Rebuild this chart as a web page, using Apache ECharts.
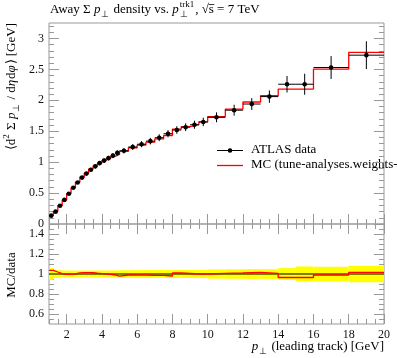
<!DOCTYPE html>
<html><head><meta charset="utf-8">
<script src="https://cdn.jsdelivr.net/npm/echarts@6/dist/echarts.min.js"></script>
<style>html,body{margin:0;padding:0;background:#fff}#c{width:397px;height:358px}</style>
</head><body><div id="c"></div>
<script>
// ---- data ----
const binEdges = [1,1.25,1.5,1.75,2,2.25,2.5,2.75,3,3.25,3.5,3.75,4,4.25,4.5,4.75,5,5.5,6,6.5,7,7.5,8,8.5,9,9.5,10,11,12,13,14,15,16,18,20];
const dataVals = [0.135,0.20,0.295,0.39,0.49,0.585,0.67,0.75,0.815,0.878,0.932,0.985,1.025,1.065,1.105,1.15,1.185,1.245,1.29,1.34,1.395,1.46,1.52,1.565,1.605,1.65,1.725,1.84,1.94,2.06,2.26,2.26,2.53,2.73];
const dataErr = [0.008,0.008,0.011,0.014,0.017,0.02,0.023,0.026,0.029,0.031,0.033,0.035,0.037,0.038,0.040,0.042,0.045,0.048,0.050,0.053,0.056,0.058,0.061,0.063,0.065,0.068,0.080,0.088,0.095,0.100,0.133,0.170,0.185,0.225];
const mcVals = [0.140,0.204,0.296,0.389,0.489,0.585,0.677,0.760,0.826,0.889,0.939,0.988,1.025,1.060,1.094,1.125,1.173,1.233,1.277,1.323,1.377,1.431,1.535,1.573,1.605,1.65,1.737,1.858,1.973,2.074,2.181,2.181,2.505,2.776];
const xMajorTicks = [2,4,6,8,10,12,14,16,18,20];
const yTopMajorTicks = [0,0.5,1,1.5,2,2.5,3];
const yRatioMajorTicks = [0.6,0.8,1,1.2,1.4];
const legendNames = ['ATLAS data','MC (tune-analyses.weights-'];

// ---- helpers ----
const FF = '"Liberation Serif", "Times New Roman", serif';
const GRAY = '#999';
const RED = '#ff0000';
const TS = 13;
function fnt(size, italic){ return (italic ? 'italic ' : '') + size + 'px ' + FF; }
const mctx = document.createElement('canvas').getContext('2d');
function tw(t, f){ mctx.font = f; return mctx.measureText(t).width; }
function steps(a, b, d){ const r=[]; for(let v=a; v<=b+1e-9; v+=d) r.push(+v.toFixed(4)); return r; }

function layoutRun(parts, size){
  let x = 0; const els = [];
  const small = Math.round(size*0.72);
  parts.forEach(p => {
    if (p.t !== undefined) {
      const f = fnt(size, p.i);
      const w = tw(p.t, f);
      els.push({type:'text', x:x, y:0, style:{text:p.t, font:f, fill:'#000', textVerticalAlign:'middle'}});
      if (p.over) els.push({type:'line', shape:{x1:x, y1:-size*0.42, x2:x+w+0.5, y2:-size*0.42}, style:{stroke:'#000', lineWidth:0.8}});
      x += w + (p.i ? 0.8 : 0);
    } else {
      const f = fnt(small, false);
      let w = 0;
      if (p.sub) { els.push({type:'text', x:x, y:size*0.32, style:{text:p.sub, font:f, fill:'#000', textVerticalAlign:'middle'}}); w = Math.max(w, tw(p.sub,f)); }
      if (p.sup) { els.push({type:'text', x:x, y:-size*0.38, style:{text:p.sup, font:f, fill:'#000', textVerticalAlign:'middle'}}); w = Math.max(w, tw(p.sup,f)); }
      x += w + 1;
    }
  });
  return {els, width:x};
}

// ---- derived series data ----
const mcStep = binEdges.map((e,i) => [e, mcVals[Math.min(i, mcVals.length-1)]]);
const dataItems = dataVals.map((v,i) => [(binEdges[i]+binEdges[i+1])/2, v, dataErr[i], binEdges[i], binEdges[i+1]]);
const bandItems = dataVals.map((v,i) => [binEdges[i], binEdges[i+1], 1 - dataErr[i]/v, 1 + dataErr[i]/v]);
const ratioStep = binEdges.map((e,i) => { const k=Math.min(i, mcVals.length-1); return [e, mcVals[k]/dataVals[k]]; });

// ---- axes ----
function xAx(grid, pos, vals, len, labels){
  return {type:'value', gridIndex:grid, position:pos, min:1, max:20,
    axisLine:{show:false}, splitLine:{show:false},
    axisTick:{show:true, inside:true, length:len, customValues:vals, lineStyle:{color:GRAY, width:1}},
    axisLabel: labels ? {show:true, customValues:vals, margin:5, fontFamily:FF, fontSize:12, color:'#111'} : {show:false}
  };
}
function yAx(grid, pos, min, max, vals, len, labels){
  return {type:'value', gridIndex:grid, position:pos, min:min, max:max,
    axisLine:{show:false}, splitLine:{show:false},
    axisTick:{show:true, inside:true, length:len, customValues:vals, lineStyle:{color:GRAY, width:1}},
    axisLabel: labels ? {show:true, customValues:vals, margin:5, fontFamily:FF, fontSize:12, color:'#111'} : {show:false}
  };
}
const xMinor = steps(1, 20, 0.5);
const yTopMinor = steps(0, 3.2, 0.1);
const yRatioMinor = steps(0.55, 1.45, 0.05);

const xAxes = [
  xAx(0,'bottom',xMajorTicks,10,false), xAx(0,'bottom',xMinor,5,false),
  xAx(0,'top',xMajorTicks,10,false), xAx(0,'top',xMinor,5,false),
  xAx(1,'bottom',xMajorTicks,10,true), xAx(1,'bottom',xMinor,5,false),
  xAx(1,'top',xMajorTicks,10,false), xAx(1,'top',xMinor,5,false)
];
const yAxes = [
  yAx(0,'left',0,3.25,yTopMajorTicks,10,true), yAx(0,'left',0,3.25,yTopMinor,5,false),
  yAx(0,'right',0,3.25,yTopMajorTicks,10,false), yAx(0,'right',0,3.25,yTopMinor,5,false),
  yAx(1,'left',0.5,1.5,yRatioMajorTicks,10,true), yAx(1,'left',0.5,1.5,yRatioMinor,5,false),
  yAx(1,'right',0.5,1.5,yRatioMajorTicks,10,false), yAx(1,'right',0.5,1.5,yRatioMinor,5,false)
];

// ---- text graphics ----
const title = layoutRun([{t:'Away Σ '},{t:'p',i:true},{sub:'⊥'},{t:' density vs. '},{t:'p',i:true},{sub:'⊥',sup:'trk1'},{t:', √'},{t:'s',over:true},{t:' = 7 TeV'}], TS);
const xName = layoutRun([{t:'p',i:true},{sub:'⊥'},{t:' (leading track) [GeV]'}], TS);
const yName = layoutRun([{t:'⟨d'},{sup:'2'},{t:' Σ '},{t:'p',i:true},{sub:'⊥'},{t:' / d'},{t:'η',i:true},{t:'d'},{t:'φ',i:true},{t:'⟩ [GeV]'}], TS);
const rName = layoutRun([{t:'MC/data'}], TS);

const graphics = [
  {type:'group', x:50, y:10, children:title.els},
  {type:'group', x:384 - xName.width, y:347, children:xName.els},
  {type:'group', x:12, y:23 + yName.width, rotation:Math.PI/2, children:yName.els},
  {type:'group', x:12, y:275 + rName.width/2, rotation:Math.PI/2, children:rName.els},
  // legend
  {type:'line', shape:{x1:217, y1:150.5, x2:243, y2:150.5}, style:{stroke:'#000', lineWidth:1}},
  {type:'circle', shape:{cx:230, cy:150.5, r:2.3}, style:{fill:'#000'}},
  {type:'text', x:251, y:150, style:{text:legendNames[0], font:fnt(TS), fill:'#000', textVerticalAlign:'middle'}},
  {type:'line', shape:{x1:217, y1:165.5, x2:243, y2:165.5}, style:{stroke:RED, lineWidth:1.3}},
  {type:'text', x:251, y:165, style:{text:legendNames[1], font:fnt(TS), fill:'#000', textVerticalAlign:'middle'}}
];

const chart = echarts.init(document.getElementById('c'), null, {renderer:'canvas'});
chart.setOption({
  animation:false,
  backgroundColor:'#fff',
  grid:[
    {left:49, right:13, top:23, height:201, show:true, borderColor:GRAY, borderWidth:1, backgroundColor:'transparent'},
    {left:49, right:13, top:224, height:100, show:true, borderColor:GRAY, borderWidth:1, backgroundColor:'transparent'}
  ],
  xAxis:xAxes,
  yAxis:yAxes,
  series:[
    {type:'line', name:'MC', xAxisIndex:0, yAxisIndex:0, step:'end', data:mcStep, showSymbol:false, symbol:'none',
      lineStyle:{color:RED, width:1.3}, z:2},
    {type:'custom', name:'data', xAxisIndex:0, yAxisIndex:0, data:dataItems, z:3,
      encode:{x:[0,3,4], y:1},
      renderItem:function(params, api){
        const c=api.value(0), v=api.value(1), e=api.value(2), lo=api.value(3), hi=api.value(4);
        const pC=api.coord([c,v]), pT=api.coord([c,v+e]), pB=api.coord([c,v-e]), pL=api.coord([lo,v]), pR=api.coord([hi,v]);
        const st={stroke:'#000', lineWidth:1};
        return {type:'group', children:[
          {type:'line', shape:{x1:pL[0], y1:pL[1], x2:pR[0], y2:pR[1]}, style:st},
          {type:'line', shape:{x1:pT[0], y1:pT[1], x2:pB[0], y2:pB[1]}, style:st},
          {type:'circle', shape:{cx:pC[0], cy:pC[1], r:2.3}, style:{fill:'#000'}}
        ]};
      }},
    {type:'custom', name:'band', xAxisIndex:4, yAxisIndex:4, data:bandItems, z:1,
      encode:{x:[0,1], y:[2,3]},
      renderItem:function(params, api){
        const p1=api.coord([api.value(0), api.value(3)]);
        const p2=api.coord([api.value(1), api.value(2)]);
        return {type:'rect', shape:{x:p1[0], y:p1[1], width:p2[0]-p1[0], height:p2[1]-p1[1]}, style:{fill:'#ffff00'}};
      }},
    {type:'line', name:'dataRatio', xAxisIndex:4, yAxisIndex:4, data:[[1,1],[20,1]], showSymbol:false, symbol:'none',
      lineStyle:{color:'#000', width:1}, z:2},
    {type:'line', name:'MCratio', xAxisIndex:4, yAxisIndex:4, step:'end', data:ratioStep, showSymbol:false, symbol:'none',
      lineStyle:{color:RED, width:1.3}, z:3}
  ],
  graphic:graphics
});
</script></body></html>
